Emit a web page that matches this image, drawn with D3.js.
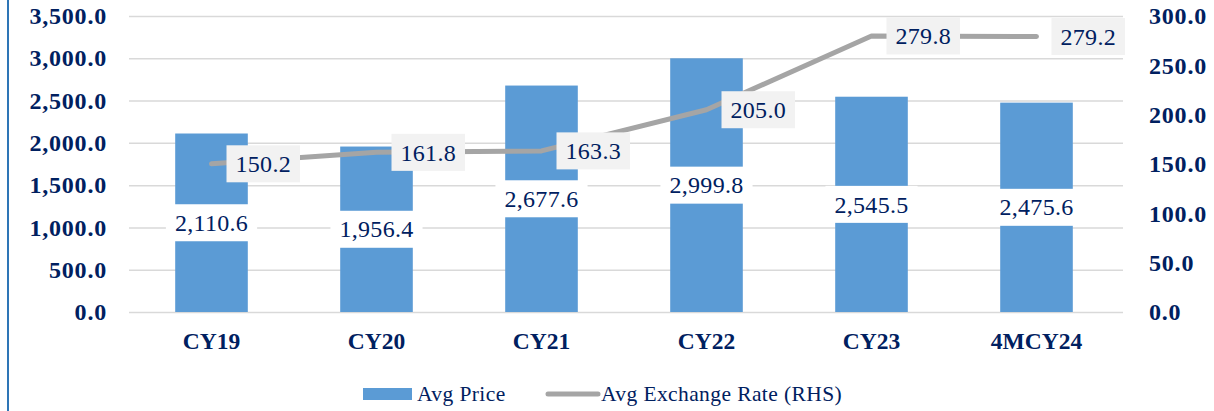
<!DOCTYPE html>
<html>
<head>
<meta charset="utf-8">
<script src="https://cdn.jsdelivr.net/npm/d3@7"></script>
<style>
  body { margin: 0; background: #fff; }
  svg { display: block; font-family: "Liberation Serif", serif; }
</style>
</head>
<body>
<svg id="chart" width="1214" height="411"></svg>
<script>
var categories = ["CY19", "CY20", "CY21", "CY22", "CY23", "4MCY24"];
var avgPrice = [2110.6, 1956.4, 2677.6, 2999.8, 2545.5, 2475.6];
var avgRate = [150.2, 161.8, 163.3, 205.0, 279.8, 279.2];
var leftTicks = [0, 500, 1000, 1500, 2000, 2500, 3000, 3500];
var rightTicks = [0, 50, 100, 150, 200, 250, 300];

var svg = d3.select("#chart"),
    margin = { top: 16, right: 91, bottom: 99, left: 129 },
    width = +svg.attr("width") - margin.left - margin.right,
    height = +svg.attr("height") - margin.top - margin.bottom,
    g = svg.append("g").attr("transform", "translate(" + margin.left + "," + margin.top + ")");

var navy = "#002060";
var fmt = d3.format(",.1f");

// left border of the frame
svg.append("line")
    .attr("x1", 8).attr("x2", 8).attr("y1", 0).attr("y2", 411)
    .attr("stroke", "#2e75b6").attr("stroke-width", 2);

var x = d3.scaleBand().domain(categories).range([0, width - 4])
    .paddingInner(0.56).paddingOuter(0.28);
var yL = d3.scaleLinear().domain([0, 3500]).range([height, 0]);
var yR = d3.scaleLinear().domain([0, 300]).range([height, 0]);

function styleTicks(a) {
    a.select(".domain").remove();
    a.selectAll("text").attr("fill", navy).style("font-size", "24px")
        .style("font-weight", "bold").style("letter-spacing", "0.8px")
        .style("font-family", "Liberation Serif");
}

// gridlines
g.append("g")
    .call(d3.axisLeft(yL).tickValues(leftTicks).tickSize(-width).tickFormat(""))
    .call(function (a) {
        a.select(".domain").remove();
        a.selectAll("line").attr("stroke", "#d9d9d9").attr("stroke-width", 1.5);
    });

// left axis
g.append("g")
    .call(d3.axisLeft(yL).tickValues(leftTicks).tickSize(0).tickPadding(22).tickFormat(fmt))
    .call(styleTicks);

// right axis
g.append("g")
    .attr("transform", "translate(" + width + ",0)")
    .call(d3.axisRight(yR).tickValues(rightTicks).tickSize(0).tickPadding(26).tickFormat(fmt))
    .call(styleTicks);

// x axis
g.append("g")
    .attr("transform", "translate(0," + height + ")")
    .call(d3.axisBottom(x).tickSize(0).tickPadding(20))
    .call(styleTicks)
    .call(function (a) { a.selectAll("text").style("font-size", "23.5px").style("letter-spacing", "0px"); });

// bars
g.selectAll(".bar")
    .data(avgPrice)
    .enter().append("rect")
    .attr("class", "bar")
    .attr("x", function (d, i) { return x(categories[i]); })
    .attr("width", x.bandwidth())
    .attr("y", function (d) { return yL(d); })
    .attr("height", function (d) { return height - yL(d); })
    .attr("fill", "#5b9bd5");

// line
var line = d3.line()
    .x(function (d, i) { return x(categories[i]) + x.bandwidth() / 2; })
    .y(function (d) { return yR(d); });

g.append("path")
    .datum(avgRate)
    .attr("d", line)
    .attr("fill", "none")
    .attr("stroke", "#a5a5a5")
    .attr("stroke-width", 5)
    .attr("stroke-linecap", "round")
    .attr("stroke-linejoin", "round");

// label helper: text with a box behind it
function label(parent, tx, ty, txt, fill, anchor) {
    var grp = parent.append("g");
    var t = grp.append("text")
        .attr("x", tx).attr("y", ty)
        .attr("dy", "0.34em")
        .attr("text-anchor", anchor)
        .attr("fill", navy)
        .style("font-size", "24px")
        .style("letter-spacing", "0.3px")
        .text(txt);
    var b = t.node().getBBox();
    grp.insert("rect", "text")
        .attr("x", b.x - 9).attr("y", ty - 18.5)
        .attr("width", b.width + 18).attr("height", 37)
        .attr("fill", fill);
}

avgPrice.forEach(function (d, i) {
    var cx = x(categories[i]) + x.bandwidth() / 2;
    label(g, cx, (yL(d) + height) / 2, fmt(d), "#ffffff", "middle");
});

avgRate.forEach(function (d, i) {
    var cx = x(categories[i]) + x.bandwidth() / 2;
    label(g, cx + 24, yR(d), fmt(d), "#f2f2f2", "start");
});

// legend
var lg = svg.append("g").attr("transform", "translate(0,394)");
lg.append("rect").attr("x", 363).attr("y", -6).attr("width", 49).attr("height", 12).attr("fill", "#5b9bd5");
lg.append("text").attr("x", 417).attr("y", 0).attr("dy", "0.34em").attr("fill", navy)
    .style("font-size", "21.5px").style("letter-spacing", "0.4px").text("Avg Price");
lg.append("line").attr("x1", 548).attr("x2", 598).attr("y1", 0).attr("y2", 0)
    .attr("stroke", "#a5a5a5").attr("stroke-width", 5).attr("stroke-linecap", "round");
lg.append("text").attr("x", 601).attr("y", 0).attr("dy", "0.34em").attr("fill", navy)
    .style("font-size", "21.5px").style("letter-spacing", "0.4px").text("Avg Exchange Rate (RHS)");
</script>
</body>
</html>
